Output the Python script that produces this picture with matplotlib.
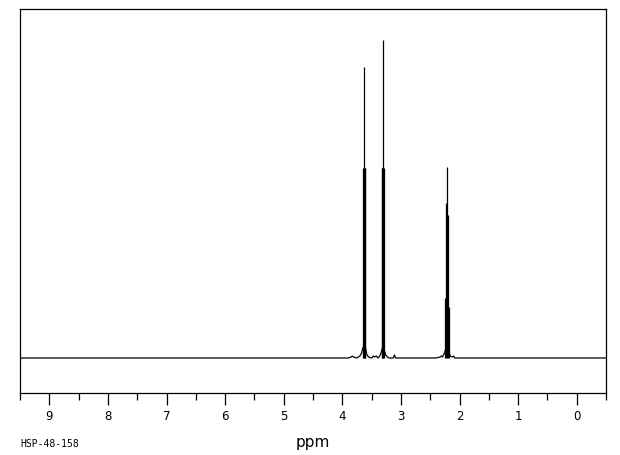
import matplotlib
matplotlib.use('Agg')
import matplotlib.pyplot as plt
from matplotlib.ticker import MultipleLocator

# sticks: chemical shift (ppm) and height (pixels above baseline)
stick_ppm = [3.645, 3.636, 3.627, 3.618, 3.61,
             3.33, 3.32, 3.31, 3.302, 3.295,
             2.24, 2.225, 2.207, 2.19, 2.175]
stick_int = [190, 190, 291, 190, 190,
             190, 190, 318, 190, 190,
             60, 155, 191, 143, 51]

# baseline trace with the little feet around the signals
base_ppm = [9.5, 3.90, 3.85, 3.83, 3.81, 3.75, 3.70, 3.67, 3.65, 3.627, 3.60, 3.58, 3.55,
            3.50, 3.47, 3.45, 3.42, 3.39, 3.36, 3.34, 3.31, 3.28, 3.26, 3.23, 3.20,
            3.13, 3.11, 3.09, 2.40, 2.33, 2.31, 2.29, 2.25, 2.23, 2.207, 2.18, 2.16,
            2.12, 2.10, 2.08, -0.5]
base_int = [0, 0, 1, 2, 1, 0, 2, 5, 10, 12, 9, 3, 1,
            0, 2, 1, 2, 0, 2, 5, 11, 7, 3, 1, 0,
            0, 3, 0, 0, 1, 2, 1, 6, 10, 12, 7, 2,
            1, 2, 0, 0]

fig = plt.figure(figsize=(6.2, 4.55), dpi=100)
ax = fig.add_axes([20 / 620, 62 / 455, 586 / 620, 384 / 455])

ax.plot(base_ppm, base_int, color='black', linewidth=0.9)
ax.vlines(stick_ppm, 0, stick_int, color='black', linewidth=0.9)

ax.set_xlim(9.5, -0.5)
ax.set_ylim(-35, 349)
ax.set_yticks([])
ax.xaxis.set_major_locator(MultipleLocator(1))
ax.xaxis.set_minor_locator(MultipleLocator(0.5))
ax.tick_params(axis='x', which='major', direction='out', length=8.6, width=0.9, pad=3.5, labelsize=8.5)
ax.tick_params(axis='x', which='minor', direction='out', length=5, width=0.9)
for s in ax.spines.values():
    s.set_linewidth(0.9)

fig.text(313 / 620, 1 - 442 / 455, 'ppm', fontsize=11, ha='center', va='center')
fig.text(20 / 620, 1 - 444 / 455, 'HSP-48-158', fontsize=7, family='DejaVu Sans Mono', va='center')

fig.savefig('out.png', dpi=100)
